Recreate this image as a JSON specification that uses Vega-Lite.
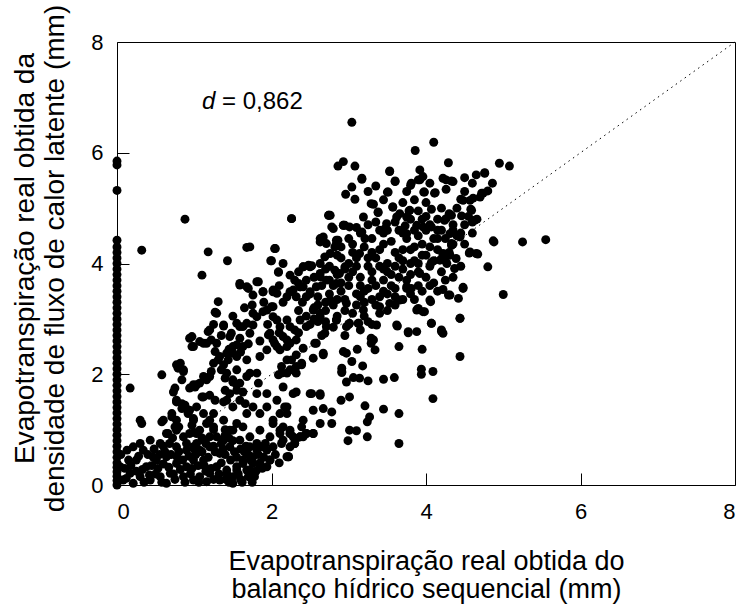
{
"$schema": "https://vega.github.io/schema/vega-lite/v6.json",
"width": 618, "height": 443,
"autosize": {"type": "none"},
"padding": {"left": 117, "top": 42, "right": 7, "bottom": 122},
"background": "white",
"config": {
 "view": {"stroke": "black", "strokeWidth": 1},
 "axis": {"grid": false, "domain": false, "offset": -12, "tickSize": 12, "tickColor": "black", "labelColor": "black", "titleColor": "black",
  "labelFont": "Liberation Sans", "titleFont": "Liberation Sans", "labelFontSize": 22, "titleFontSize": 27, "titleFontWeight": "normal",
  "format": "d"}
},
"datasets": {
 "pts": [
{"x":0,"y":0},{"x":0,"y":0.08},{"x":0,"y":0.16},{"x":0,"y":0.24},{"x":0,"y":0.32},{"x":0,"y":0.4},{"x":0,"y":0.5},{"x":0,"y":0.6},{"x":0,"y":0.7},{"x":0,"y":0.8},{"x":0,"y":0.9},{"x":0,"y":1.0},{"x":0,"y":1.1},{"x":0,"y":1.2},{"x":0,"y":1.3},{"x":0,"y":1.4},{"x":0,"y":1.5},{"x":0,"y":1.6},{"x":0,"y":1.7},{"x":0,"y":1.8},{"x":0,"y":1.9},{"x":0,"y":2.0},{"x":0,"y":2.1},{"x":0,"y":2.2},{"x":0,"y":2.3},{"x":0,"y":2.4},{"x":0,"y":2.5},{"x":0,"y":2.6},{"x":0,"y":2.7},{"x":0,"y":2.8},{"x":0,"y":2.9},{"x":0,"y":3.0},{"x":0,"y":3.1},{"x":0,"y":3.2},{"x":0,"y":3.3},{"x":0,"y":3.4},{"x":0,"y":3.5},{"x":0,"y":3.6},{"x":0,"y":3.7},{"x":0,"y":3.8},{"x":0,"y":3.9},{"x":0,"y":4.0},{"x":0,"y":4.1},{"x":0,"y":4.2},{"x":0,"y":4.3},{"x":0,"y":4.42},{"x":0,"y":5.32},{"x":0,"y":5.78},{"x":0,"y":5.85},
{"x":0.04,"y":0.33},{"x":0.08,"y":0.09},{"x":0.13,"y":0.63},{"x":0.17,"y":0.21},{"x":0.21,"y":0.69},{"x":0.21,"y":0.03},{"x":0.25,"y":0.45},{"x":0.3,"y":0.15},{"x":0.34,"y":0.63},{"x":0.38,"y":0.33},{"x":0.43,"y":0.81},{"x":0.43,"y":0.09},{"x":0.51,"y":0.45},{"x":0.56,"y":0.75},{"x":0.56,"y":0.15},{"x":0.64,"y":0.93},{"x":0.64,"y":0.51},{"x":0.64,"y":0.03},{"x":0.69,"y":0.21},{"x":0.77,"y":0.69},{"x":0.77,"y":0.39},{"x":0.86,"y":0.87},{"x":0.86,"y":0.15},{"x":0.9,"y":0.63},{"x":0.9,"y":0.33},{"x":0.94,"y":0.93},{"x":0.99,"y":0.45},{"x":0.99,"y":0.09},{"x":1.03,"y":0.75},{"x":1.07,"y":0.15},{"x":1.12,"y":0.45},{"x":1.16,"y":0.06},{"x":1.2,"y":0.69},{"x":1.2,"y":0.21},{"x":1.29,"y":0.87},{"x":1.29,"y":0.33},{"x":1.33,"y":0.57},{"x":1.33,"y":0.09},{"x":1.38,"y":0.81},{"x":1.42,"y":0.21},{"x":1.46,"y":0.69},{"x":1.5,"y":0.15},{"x":1.5,"y":0.03},{"x":1.55,"y":0.33},{"x":1.59,"y":0.81},{"x":1.63,"y":0.45},{"x":1.68,"y":0.27},{"x":1.72,"y":0.69},{"x":1.72,"y":0.87},{"x":1.76,"y":0.39},{"x":1.81,"y":0.75},{"x":1.81,"y":0.63},{"x":1.89,"y":0.69},{"x":1.94,"y":0.63},{"x":1.94,"y":0.33},{"x":1.98,"y":0.45},{"x":1.98,"y":0.87},{"x":2.02,"y":0.69},{"x":2.13,"y":0.75},{"x":2.11,"y":0.99},{"x":2.2,"y":0.51},{"x":2.15,"y":0.81},{"x":2.24,"y":0.69},{"x":2.24,"y":0.93},{"x":2.28,"y":0.87},{"x":2.3,"y":0.75},{"x":2.37,"y":0.87},{"x":2.45,"y":0.93},{"x":2.54,"y":0.93},{"x":2.22,"y":0.51},{"x":1.85,"y":0.99},{"x":1.63,"y":1.05},{"x":1.5,"y":0.99},
{"x":0.1,"y":0.3},{"x":0.15,"y":0.45},{"x":0.25,"y":0.25},{"x":0.35,"y":0.05},{"x":0.45,"y":0.35},{"x":0.5,"y":0.2},{"x":0.6,"y":0.38},{"x":0.7,"y":0.55},{"x":0.75,"y":0.1},{"x":0.82,"y":0.28},{"x":0.95,"y":0.2},{"x":1.05,"y":0.35},{"x":1.1,"y":0.6},{"x":1.15,"y":0.25},{"x":1.25,"y":0.1},{"x":1.35,"y":0.4},{"x":1.4,"y":0.55},{"x":1.45,"y":0.05},{"x":1.55,"y":0.5},{"x":1.6,"y":0.1},{"x":1.65,"y":0.6},{"x":1.7,"y":0.15},{"x":1.75,"y":0.05},{"x":1.8,"y":0.25},{"x":1.85,"y":0.4},{"x":1.9,"y":0.5},{"x":2.05,"y":0.55},{"x":2.1,"y":0.4},{"x":0.05,"y":0.55},{"x":0.3,"y":0.75},{"x":0.4,"y":0.55},{"x":0.48,"y":0.65},{"x":0.72,"y":0.85},{"x":0.8,"y":1.05},{"x":0.6,"y":0.7},{"x":1.0,"y":0.95},{"x":1.1,"y":0.85},{"x":1.25,"y":1.0},{"x":1.4,"y":1.0},{"x":1.45,"y":0.85},
{"x":0.12,"y":0.12},{"x":0.18,"y":0.35},{"x":0.28,"y":0.52},{"x":0.33,"y":0.28},{"x":0.42,"y":0.18},{"x":0.47,"y":0.5},{"x":0.53,"y":0.3},{"x":0.58,"y":0.05},{"x":0.62,"y":0.6},{"x":0.67,"y":0.32},{"x":0.73,"y":0.2},{"x":0.78,"y":0.5},{"x":0.85,"y":0.45},{"x":0.88,"y":0.05},{"x":0.93,"y":0.52},{"x":0.97,"y":0.3},{"x":1.02,"y":0.55},{"x":1.06,"y":0.05},{"x":1.13,"y":0.35},{"x":1.18,"y":0.5},{"x":1.22,"y":0.3},{"x":1.27,"y":0.6},{"x":1.32,"y":0.2},{"x":1.37,"y":0.65},{"x":1.41,"y":0.1},{"x":1.47,"y":0.45},{"x":1.52,"y":0.6},{"x":1.57,"y":0.2},{"x":1.62,"y":0.05},{"x":1.67,"y":0.7},{"x":1.73,"y":0.45},{"x":1.78,"y":0.15},{"x":1.83,"y":0.55},{"x":1.88,"y":0.3},{"x":1.92,"y":0.75},{"x":1.7,"y":0.55},{"x":1.6,"y":0.65},{"x":0.9,"y":0.75},{"x":1.0,"y":0.65},{"x":0.8,"y":0.6},{"x":0.68,"y":0.75},{"x":0.55,"y":0.55},{"x":1.15,"y":0.75},{"x":1.25,"y":0.7},{"x":1.35,"y":0.75},{"x":1.5,"y":0.8},{"x":1.4,"y":0.9},
{"x":0.6,"y":1.17},{"x":0.71,"y":1.29},{"x":0.77,"y":1.17},{"x":0.88,"y":1.44},{"x":0.94,"y":1.35},{"x":0.99,"y":1.2},{"x":0.97,"y":1.08},{"x":0.66,"y":0.93},{"x":0.77,"y":0.99},{"x":0.77,"y":1.53},{"x":0.84,"y":1.47},{"x":0.94,"y":1.75},{"x":1.03,"y":1.81},{"x":1.12,"y":1.59},{"x":1.25,"y":1.29},{"x":1.38,"y":1.5},{"x":1.46,"y":1.65},{"x":1.55,"y":1.81},{"x":1.63,"y":1.68},{"x":1.66,"y":1.47},{"x":1.25,"y":1.05},{"x":1.38,"y":1.17},{"x":1.46,"y":0.99},{"x":1.55,"y":1.11},{"x":1.2,"y":0.87},{"x":1.03,"y":0.93},{"x":1.12,"y":0.81},{"x":0.99,"y":0.69},{"x":1.07,"y":0.63},{"x":1.76,"y":0.51},{"x":1.63,"y":0.39},{"x":1.55,"y":0.27},{"x":1.72,"y":0.27},{"x":1.85,"y":0.33},{"x":1.42,"y":0.27},{"x":2.02,"y":1.11},{"x":2.11,"y":0.93},{"x":2.24,"y":0.99},{"x":2.32,"y":0.84},{"x":2.39,"y":1.05},{"x":1.98,"y":0.45},{"x":2.41,"y":1.17},{"x":2.41,"y":0.87},
{"x":1.31,"y":3.31},{"x":1.27,"y":3.12},{"x":0.17,"y":1.75},{"x":0.58,"y":1.99},{"x":0.3,"y":1.17},{"x":0.32,"y":1.11},{"x":0.82,"y":2.2},{"x":0.86,"y":2.08},{"x":0.79,"y":2.11},{"x":0.97,"y":2.5},{"x":0.94,"y":2.65},{"x":1.2,"y":2.8},{"x":1.16,"y":2.56},{"x":1.29,"y":2.56},{"x":1.27,"y":2.41},{"x":1.38,"y":2.89},{"x":1.07,"y":2.59},{"x":0.75,"y":1.75},{"x":0.73,"y":1.68},{"x":0.77,"y":1.5},{"x":0.84,"y":1.38},{"x":0.58,"y":1.14},{"x":0.71,"y":1.23},{"x":0.75,"y":1.05},{"x":0.88,"y":1.41},{"x":0.92,"y":1.29},{"x":1.01,"y":1.77},{"x":1.07,"y":1.84},{"x":1.16,"y":1.9},{"x":1.2,"y":1.96},{"x":1.1,"y":1.59},{"x":1.2,"y":1.62},{"x":1.27,"y":1.53},{"x":1.4,"y":1.71},{"x":1.42,"y":1.53},{"x":1.31,"y":2.26},{"x":1.38,"y":2.17},{"x":1.44,"y":2.26},{"x":1.5,"y":2.38},{"x":1.55,"y":2.53},{"x":1.59,"y":2.65},{"x":1.63,"y":2.86},{"x":1.68,"y":2.92},{"x":1.76,"y":2.89},{"x":1.55,"y":2.92},{"x":1.48,"y":2.74},{"x":1.76,"y":3.1},{"x":1.89,"y":3.13},{"x":2.02,"y":3.22},{"x":2.2,"y":3.4},{"x":2.28,"y":3.52},{"x":1.76,"y":3.43},{"x":1.68,"y":3.58},{"x":1.59,"y":3.64},{"x":1.89,"y":3.49},{"x":2.07,"y":3.46},{"x":1.55,"y":2.08},{"x":1.42,"y":2.02},{"x":1.5,"y":1.9},{"x":1.59,"y":1.84},{"x":1.68,"y":1.96},{"x":1.81,"y":2.02},{"x":1.83,"y":1.84},{"x":1.85,"y":2.32},{"x":1.94,"y":2.44},{"x":2.07,"y":2.5},{"x":2.2,"y":2.26},{"x":2.13,"y":2.14},{"x":2.24,"y":2.08},{"x":2.32,"y":2.14},{"x":2.32,"y":2.35},{"x":2.02,"y":3.04},{"x":2.11,"y":2.86},{"x":2.2,"y":2.98},{"x":1.96,"y":2.71},{"x":2.02,"y":2.62},{"x":2.2,"y":2.62},{"x":2.2,"y":1.41},{"x":2.11,"y":1.29},{"x":2.02,"y":1.17},{"x":2.07,"y":1.53},{"x":0.99,"y":1.17},{"x":1.07,"y":0.99},{"x":1.16,"y":1.11},{"x":1.12,"y":1.29},{"x":1.03,"y":1.41},{"x":1.2,"y":1.17},{"x":1.5,"y":1.41},{"x":1.59,"y":1.53},{"x":1.68,"y":1.29},{"x":1.76,"y":1.41},{"x":1.85,"y":1.29},{"x":1.94,"y":1.41},{"x":1.81,"y":1.65},{"x":1.94,"y":1.65},
{"x":0.88,"y":4.8},{"x":2.26,"y":4.81},{"x":2.74,"y":4.87},{"x":1.18,"y":4.21},{"x":1.68,"y":4.29},{"x":2.04,"y":4.27},{"x":1.43,"y":4.05},{"x":1.1,"y":3.79},{"x":1.99,"y":4.05},{"x":2.09,"y":3.85},{"x":1.59,"y":3.61},{"x":1.7,"y":3.55},{"x":1.83,"y":3.67},{"x":2.02,"y":3.52},{"x":1.29,"y":3.1},{"x":1.38,"y":2.87},{"x":1.59,"y":2.86},{"x":1.72,"y":2.74},{"x":1.81,"y":3.04},{"x":1.94,"y":3.16},{"x":2.0,"y":3.22},{"x":2.07,"y":2.98},{"x":1.98,"y":2.74},{"x":2.04,"y":2.56},{"x":2.15,"y":2.68},{"x":2.24,"y":2.56},{"x":2.11,"y":2.44},{"x":0.97,"y":2.68},{"x":0.99,"y":2.5},{"x":1.12,"y":2.56},{"x":1.18,"y":2.77},{"x":1.22,"y":2.62},{"x":1.46,"y":2.68},{"x":1.5,"y":2.5},{"x":1.42,"y":2.38},{"x":1.55,"y":2.32},{"x":1.63,"y":2.5},{"x":1.68,"y":2.26},{"x":1.33,"y":2.32},{"x":0.77,"y":2.17},{"x":0.86,"y":2.05},{"x":0.84,"y":1.9},{"x":0.99,"y":1.81},{"x":1.12,"y":1.96},{"x":1.22,"y":2.05},{"x":1.25,"y":2.2},{"x":1.35,"y":2.08},{"x":1.4,"y":1.93},{"x":1.5,"y":1.86},{"x":1.55,"y":1.71},{"x":1.72,"y":2.02},{"x":2.09,"y":1.99},{"x":2.2,"y":2.02},{"x":2.32,"y":2.02},{"x":2.39,"y":2.2},{"x":2.28,"y":1.65},{"x":2.5,"y":1.65},{"x":2.63,"y":1.65},{"x":2.91,"y":2.05},{"x":2.97,"y":1.86},{"x":2.93,"y":2.41},{"x":2.58,"y":2.56},{"x":2.67,"y":2.38},{"x":2.41,"y":3.94},{"x":2.48,"y":3.97},{"x":2.67,"y":4.48},{"x":2.78,"y":4.66},{"x":2.93,"y":4.69},{"x":2.84,"y":4.36},{"x":2.63,"y":3.82},{"x":2.71,"y":3.7},{"x":2.84,"y":3.64},{"x":2.58,"y":3.58},{"x":0.32,"y":4.24},
{"x":1.75,"y":3.25},{"x":1.9,"y":3.3},{"x":2.1,"y":3.6},{"x":2.15,"y":3.3},{"x":2.3,"y":3.7},{"x":1.95,"y":2.9},{"x":2.1,"y":2.75},{"x":2.3,"y":2.8},{"x":1.85,"y":2.6},{"x":1.7,"y":2.55},{"x":1.45,"y":2.45},{"x":1.6,"y":2.4},{"x":1.35,"y":2.7},{"x":1.25,"y":2.9},{"x":1.65,"y":3.2},{"x":1.5,"y":3.05},{"x":2.35,"y":3.85},{"x":2.45,"y":3.7},{"x":2.15,"y":4.0},
{"x":4.22,"y":3.53},{"x":4.31,"y":3.43},{"x":4.42,"y":3.37},{"x":4.48,"y":3.57},{"x":4.06,"y":3.31},{"x":3.88,"y":3.16},{"x":3.98,"y":3.13},{"x":4.07,"y":2.92},{"x":4.2,"y":2.8},{"x":4.22,"y":2.74},{"x":4.44,"y":3.01},{"x":4.44,"y":2.32},{"x":3.77,"y":2.77},{"x":3.88,"y":2.77},{"x":3.63,"y":2.87},{"x":3.65,"y":2.5},{"x":3.95,"y":2.45},{"x":3.94,"y":2.09},{"x":3.94,"y":2.0},{"x":4.09,"y":2.05},{"x":4.09,"y":1.56},{"x":3.59,"y":1.94},{"x":3.45,"y":1.91},{"x":3.14,"y":1.93},{"x":3.25,"y":1.88},{"x":3.06,"y":1.94},{"x":2.91,"y":2.03},{"x":3.18,"y":2.15},{"x":3.11,"y":2.45},{"x":3.04,"y":2.23},{"x":2.97,"y":2.38},{"x":3.34,"y":2.44},{"x":3.32,"y":2.62},{"x":3.25,"y":2.95},{"x":3.13,"y":2.92},{"x":3.01,"y":1.59},{"x":2.9,"y":1.53},{"x":3.21,"y":1.43},{"x":3.45,"y":1.37},{"x":3.65,"y":1.29},{"x":3.27,"y":1.23},{"x":3.24,"y":1.14},{"x":3.01,"y":0.99},{"x":3.1,"y":0.98},{"x":2.99,"y":0.8},{"x":3.24,"y":0.87},{"x":3.65,"y":0.75},{"x":2.63,"y":1.62},{"x":2.52,"y":1.65},{"x":2.54,"y":1.35},{"x":2.67,"y":1.38},{"x":2.78,"y":1.32},{"x":2.63,"y":1.11},{"x":2.78,"y":1.11},{"x":2.54,"y":0.93},{"x":2.22,"y":0.51},{"x":2.32,"y":1.68},{"x":2.39,"y":2.17},{"x":2.3,"y":2.08},{"x":2.54,"y":2.29},{"x":2.67,"y":2.35},{"x":2.41,"y":2.47},{"x":2.56,"y":2.56},{"x":2.69,"y":2.74},{"x":2.91,"y":2.11},{"x":2.15,"y":1.05},{"x":2.24,"y":0.93},{"x":2.3,"y":0.75},{"x":2.37,"y":0.87},{"x":2.45,"y":0.93},{"x":2.17,"y":1.41},{"x":2.2,"y":1.29},{"x":2.15,"y":1.77},{"x":2.13,"y":2.02},{"x":2.26,"y":2.26},{"x":2.76,"y":3.34},{"x":2.97,"y":3.28},{"x":3.19,"y":3.16},{"x":3.4,"y":3.22},{"x":3.53,"y":3.28},{"x":3.66,"y":3.34},{"x":3.75,"y":3.58},{"x":2.84,"y":2.98},{"x":3.01,"y":2.92},{"x":2.63,"y":3.1},{"x":2.37,"y":2.98},{"x":2.24,"y":2.86},{"x":2.2,"y":2.5},{"x":2.32,"y":2.62},{"x":2.45,"y":2.86},{"x":3.36,"y":2.89},{"x":3.29,"y":2.56},
{"x":3.04,"y":6.55},{"x":4.1,"y":6.19},{"x":3.86,"y":6.04},{"x":4.29,"y":5.82},{"x":4.95,"y":5.81},{"x":5.08,"y":5.76},{"x":2.93,"y":5.84},{"x":2.86,"y":5.76},{"x":3.08,"y":5.76},{"x":3.53,"y":5.67},{"x":3.92,"y":5.69},{"x":3.96,"y":5.57},{"x":3.9,"y":5.51},{"x":4.22,"y":5.54},{"x":4.33,"y":5.49},{"x":4.76,"y":5.64},{"x":4.86,"y":5.45},{"x":3.17,"y":5.52},{"x":3.6,"y":5.49},{"x":3.04,"y":5.38},{"x":2.96,"y":5.25},{"x":3.08,"y":5.16},{"x":3.5,"y":5.29},{"x":3.8,"y":5.41},{"x":3.97,"y":5.29},{"x":4.12,"y":5.28},{"x":4.26,"y":5.34},{"x":4.7,"y":5.2},{"x":4.8,"y":5.31},{"x":4.74,"y":5.27},{"x":4.45,"y":5.16},{"x":4.57,"y":5.14},{"x":4.58,"y":4.98},{"x":4.07,"y":4.98},{"x":3.57,"y":5.02},{"x":3.62,"y":4.84},{"x":3.32,"y":5.07},{"x":3.38,"y":4.92},{"x":3.19,"y":4.84},{"x":2.74,"y":4.87},{"x":2.26,"y":4.81},{"x":3.78,"y":4.95},{"x":3.75,"y":4.84},{"x":4.24,"y":4.78},{"x":4.33,"y":4.87},{"x":4.46,"y":4.86},{"x":4.6,"y":4.75},{"x":4.66,"y":4.8},{"x":4.88,"y":4.39},{"x":5.25,"y":4.39},{"x":5.55,"y":4.43},{"x":4.8,"y":3.94},{"x":5.0,"y":3.44},{"x":4.56,"y":4.19},{"x":4.67,"y":4.17},{"x":4.33,"y":4.36},{"x":4.44,"y":4.49},{"x":4.31,"y":4.54},{"x":4.07,"y":4.02},{"x":4.22,"y":4.18},{"x":4.31,"y":4.15},{"x":4.37,"y":3.91},{"x":4.27,"y":4.0},{"x":4.48,"y":3.55},{"x":4.05,"y":3.34},{"x":3.92,"y":3.82},{"x":3.81,"y":3.55},{"x":4.07,"y":4.66},{"x":3.96,"y":4.66},{"x":3.88,"y":4.69},{"x":3.73,"y":4.68},{"x":3.75,"y":4.54},{"x":3.49,"y":4.72},{"x":3.47,"y":4.63},{"x":2.8,"y":4.63},{"x":2.86,"y":4.42},{"x":2.65,"y":4.45},{"x":2.63,"y":4.39},{"x":2.95,"y":4.69},{"x":3.01,"y":4.66},{"x":3.17,"y":4.57},{"x":3.21,"y":4.45},{"x":2.05,"y":4.27},{"x":2.0,"y":4.05},{"x":2.09,"y":3.84},{"x":1.72,"y":4.3},{"x":2.48,"y":3.96},{"x":2.52,"y":3.96},{"x":2.24,"y":3.79},{"x":2.35,"y":3.64},{"x":2.37,"y":3.58},{"x":2.63,"y":4.0},{"x":2.69,"y":4.12},{"x":2.76,"y":4.18},{"x":2.82,"y":3.88},{"x":2.88,"y":3.82},{"x":2.95,"y":3.94},{"x":2.82,"y":4.3},{"x":3.14,"y":4.18},{"x":1.89,"y":3.49},{"x":2.02,"y":3.49},{"x":1.81,"y":3.67},{"x":2.24,"y":3.49},{"x":2.32,"y":3.4},{"x":2.41,"y":3.58},{"x":2.5,"y":3.49},
{"x":2.45,"y":3.05},{"x":2.55,"y":3.2},{"x":2.6,"y":2.95},{"x":2.7,"y":3.15},{"x":2.75,"y":3.45},{"x":2.8,"y":3.25},{"x":2.85,"y":3.05},{"x":2.9,"y":3.5},{"x":2.95,"y":3.35},{"x":3.0,"y":3.6},{"x":3.05,"y":3.1},{"x":3.1,"y":3.45},{"x":3.15,"y":3.75},{"x":3.2,"y":3.3},{"x":3.25,"y":3.55},{"x":3.3,"y":3.85},{"x":3.35,"y":3.6},{"x":3.4,"y":3.4},{"x":3.45,"y":3.7},{"x":3.5,"y":4.0},{"x":3.55,"y":3.8},{"x":3.6,"y":3.55},{"x":3.65,"y":4.1},{"x":3.7,"y":3.9},{"x":3.75,"y":3.7},{"x":3.8,"y":4.25},{"x":3.85,"y":4.05},{"x":3.9,"y":3.85},{"x":3.95,"y":4.35},{"x":4.0,"y":4.15},{"x":4.05,"y":3.95},{"x":4.1,"y":4.45},{"x":4.15,"y":4.25},{"x":4.2,"y":4.6},{"x":4.25,"y":4.45},{"x":4.3,"y":4.2},{"x":4.35,"y":4.7},{"x":4.4,"y":4.5},{"x":2.5,"y":3.45},{"x":2.65,"y":3.6},{"x":2.85,"y":3.8},{"x":3.0,"y":4.0},{"x":3.1,"y":4.1},{"x":3.2,"y":4.3},{"x":3.3,"y":4.45},{"x":3.4,"y":4.25},{"x":3.45,"y":4.55},{"x":3.55,"y":4.4},{"x":3.65,"y":4.6},{"x":3.75,"y":4.45},{"x":3.85,"y":4.6},{"x":3.95,"y":4.8},{"x":2.9,"y":4.1},{"x":3.05,"y":4.35},{"x":3.15,"y":4.55},{"x":3.35,"y":4.75},{"x":3.5,"y":4.6},{"x":2.7,"y":3.9},{"x":2.55,"y":3.75},{"x":2.4,"y":3.3},{"x":2.35,"y":3.15},{"x":3.0,"y":2.9},{"x":3.2,"y":3.05},{"x":3.4,"y":3.1},{"x":3.6,"y":3.25},{"x":3.8,"y":3.45},{"x":3.9,"y":3.6},{"x":4.0,"y":3.75},{"x":4.1,"y":3.65},{"x":4.2,"y":3.85},{"x":3.7,"y":3.35},{"x":3.5,"y":3.15},{"x":3.3,"y":2.9},{"x":3.15,"y":2.8},{"x":2.95,"y":2.7},{"x":2.8,"y":2.85},{"x":2.65,"y":2.7},{"x":2.5,"y":2.9},{"x":2.35,"y":2.75},{"x":3.6,"y":3.95},{"x":3.35,"y":4.1},{"x":3.25,"y":3.95},{"x":3.05,"y":3.85},{"x":2.8,"y":3.6},{"x":2.6,"y":3.4},{"x":3.9,"y":4.5},{"x":4.0,"y":4.6},{"x":4.1,"y":4.05},{"x":4.25,"y":4.05},{"x":4.35,"y":4.35},{"x":4.45,"y":4.55},{"x":4.5,"y":4.7},{"x":4.55,"y":4.85},{"x":4.05,"y":4.7},{"x":3.7,"y":4.25},{"x":3.8,"y":4.0},{"x":3.55,"y":3.6},{"x":3.45,"y":3.9},{"x":3.15,"y":3.6},{"x":2.95,"y":3.9},{"x":2.75,"y":3.7},
{"x":2.9,"y":4.3},{"x":3.0,"y":4.45},{"x":3.1,"y":4.65},{"x":3.25,"y":4.7},{"x":3.4,"y":4.6},{"x":3.6,"y":4.75},{"x":3.7,"y":4.55},{"x":3.8,"y":4.8},{"x":3.9,"y":4.95},{"x":4.0,"y":4.85},{"x":4.15,"y":4.8},{"x":4.15,"y":4.6},{"x":4.3,"y":4.9},{"x":4.4,"y":5.0},{"x":4.2,"y":5.0},{"x":4.0,"y":5.1},{"x":3.85,"y":5.15},{"x":3.7,"y":5.1},{"x":3.45,"y":5.15},{"x":3.25,"y":5.3},{"x":3.35,"y":5.4},{"x":3.75,"y":5.3},{"x":4.05,"y":5.45},{"x":4.5,"y":5.3},{"x":4.6,"y":5.45},{"x":4.65,"y":5.6},{"x":4.5,"y":5.55},
{"x":3.3,"y":4.2},{"x":3.45,"y":4.35},{"x":3.6,"y":4.2},{"x":3.7,"y":4.05},{"x":3.85,"y":4.3},{"x":3.95,"y":4.15},{"x":4.05,"y":4.3},{"x":4.15,"y":4.45},{"x":3.5,"y":3.85},{"x":3.65,"y":3.75},{"x":3.8,"y":3.8},{"x":3.9,"y":4.0},{"x":3.4,"y":3.95},{"x":3.25,"y":4.1},{"x":3.1,"y":3.95},{"x":3.0,"y":3.75},{"x":3.15,"y":3.4},{"x":3.3,"y":3.7},{"x":3.45,"y":3.5},{"x":3.6,"y":3.4},{"x":3.75,"y":3.55},{"x":3.85,"y":3.35},{"x":3.95,"y":3.5},{"x":4.05,"y":3.6},{"x":4.15,"y":3.5},{"x":4.25,"y":3.7},{"x":4.35,"y":3.75},{"x":4.45,"y":3.95},{"x":4.5,"y":4.35},{"x":4.6,"y":4.55},{"x":2.9,"y":3.65},{"x":2.75,"y":3.95},{"x":2.85,"y":4.15},{"x":3.05,"y":4.2},{"x":2.95,"y":3.15},{"x":3.1,"y":3.25},{"x":3.3,"y":3.35},{"x":3.5,"y":3.45},{"x":3.35,"y":3.25},{"x":3.2,"y":3.5},{"x":2.85,"y":3.35},{"x":2.7,"y":3.3},{"x":2.6,"y":3.25},{"x":2.55,"y":3.0},{"x":2.7,"y":2.95},
{"x":2.76,"y":4.87},{"x":3.17,"y":5.54},{"x":4.76,"y":5.63},{"x":4.72,"y":5.27},{"x":4.61,"y":5.18},{"x":4.48,"y":5.14},{"x":4.59,"y":4.96},{"x":4.63,"y":4.78},{"x":4.87,"y":4.41},{"x":4.57,"y":4.21},{"x":4.65,"y":4.18},{"x":4.29,"y":3.43},{"x":4.44,"y":3.01},{"x":4.2,"y":2.77},{"x":4.07,"y":2.92},{"x":3.9,"y":3.19},{"x":3.96,"y":3.13},{"x":3.62,"y":2.89},{"x":3.77,"y":2.75},{"x":3.29,"y":2.65},{"x":3.12,"y":2.92},{"x":4.26,"y":5.51},{"x":4.35,"y":5.48},{"x":3.98,"y":5.29},{"x":4.11,"y":5.27},{"x":3.81,"y":5.45},{"x":3.92,"y":5.51},{"x":3.53,"y":5.66},{"x":3.6,"y":5.48},{"x":3.51,"y":5.29},{"x":3.29,"y":5.08},{"x":3.38,"y":4.93},{"x":3.57,"y":5.02},{"x":3.66,"y":4.9},{"x":3.79,"y":4.96},{"x":2.93,"y":4.69},{"x":2.63,"y":4.45},{"x":2.71,"y":4.36},{"x":2.84,"y":4.42},{"x":4.26,"y":4.81},{"x":4.35,"y":4.6},{"x":4.44,"y":4.48},{"x":4.33,"y":4.33},{"x":4.22,"y":4.15},{"x":4.39,"y":4.09},{"x":4.18,"y":4.06},{"x":2.41,"y":3.94},{"x":2.5,"y":3.94},{"x":2.37,"y":3.58},{"x":2.45,"y":3.4},{"x":2.63,"y":3.76},{"x":2.54,"y":3.16},{"x":2.63,"y":3.04},{"x":2.71,"y":2.86},{"x":2.84,"y":2.98},{"x":2.97,"y":2.86}
 ],
 "diag": [{"a":0,"b":0,"a2":8,"b2":8}],
 "ann": [{"a":1.1,"b":6.91,"t":"d"},{"a":1.36,"b":6.91,"t":"= 0,862"}]
},
"layer": [
 {"data": {"name": "diag"}, "mark": {"type": "rule", "color": "black", "strokeWidth": 1, "strokeDash": [1.5, 4]},
  "encoding": {"x": {"field": "a", "type": "quantitative", "scale": {"domain": [0, 8], "nice": false},
     "axis": {"values": [0,2,4,6,8], "labelPadding": 16, "title": ["Evapotranspiração real obtida do", "balanço hídrico sequencial (mm)"], "titlePadding": 26, "titleLineHeight": 28}},
   "y": {"field": "b", "type": "quantitative", "scale": {"domain": [0, 8], "nice": false},
     "axis": {"values": [0,2,4,6,8], "labelPadding": 14, "title": ["Evapotranspiração real obtida da", "densidade de fluxo de calor latente (mm)"], "titlePadding": 21, "titleLineHeight": 30, "titleFontSize": 28, "titleY": 216}},
   "x2": {"field": "a2"}, "y2": {"field": "b2"}}},
 {"data": {"name": "pts"}, "mark": {"type": "circle", "color": "black", "opacity": 1, "size": 80},
  "encoding": {"x": {"field": "x", "type": "quantitative"}, "y": {"field": "y", "type": "quantitative"}}},
 {"data": {"name": "ann"}, "transform": [{"filter": "datum.t == 'd'"}],
  "mark": {"type": "text", "align": "left", "baseline": "middle", "font": "Liberation Sans", "fontSize": 24, "fontStyle": "italic", "color": "black"},
  "encoding": {"x": {"field": "a", "type": "quantitative"}, "y": {"field": "b", "type": "quantitative"}, "text": {"field": "t"}}},
 {"data": {"name": "ann"}, "transform": [{"filter": "datum.t != 'd'"}],
  "mark": {"type": "text", "align": "left", "baseline": "middle", "font": "Liberation Sans", "fontSize": 24, "color": "black"},
  "encoding": {"x": {"field": "a", "type": "quantitative"}, "y": {"field": "b", "type": "quantitative"}, "text": {"field": "t"}}}
]
}
